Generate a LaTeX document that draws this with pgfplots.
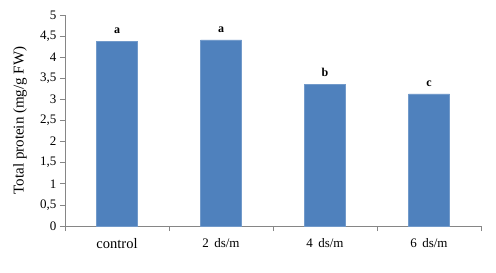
\documentclass[border=0pt]{standalone}
\usepackage{pgfplots}
\pgfplotsset{compat=1.18}
\usepackage{fontspec}
\setmainfont{Liberation Serif}
\definecolor{barblue}{HTML}{4F81BD}
\definecolor{axgray}{HTML}{868686}
\begin{document}
\begin{tikzpicture}
\useasboundingbox (-65bp,-47bp) rectangle (431bp,226bp);
\begin{axis}[
  at={(0,0)}, anchor=south west,
  scale only axis, width=416bp, height=211bp,
  xmin=0.5, xmax=4.5, ymin=0, ymax=5,
  axis x line*=bottom, axis y line*=left,
  axis line style={axgray, line width=0.8pt},
  xtick={1,2,3,4},
  xticklabels={{\fontsize{14.5bp}{16bp}\selectfont control},2\, ds/m,4\, ds/m,6\, ds/m},
  minor xtick={0.5,1.5,2.5,3.5,4.5},
  ytick={0,0.5,...,5},
  yticklabel style={/pgf/number format/.cd, use comma, fixed, fixed zerofill=false, precision=1},
  /pgf/number format/assume math mode=true,
  tick align=outside,
  major tick length=5bp, minor tick length=5bp,
  x tick style={draw=none}, minor x tick style={draw=axgray, line width=0.8pt},
  y tick style={draw=axgray, line width=0.8pt},
  ticklabel style={font=\rmfamily\fontsize{13bp}{15bp}\selectfont},
  xticklabel style={yshift=-4bp},
  ylabel={Total protein (mg/g FW)},
  every axis y label/.style={at={(axis description cs:0,0.5)}, xshift=-45bp, rotate=90, anchor=center, font=\rmfamily\fontsize{15bp}{17bp}\selectfont},
  clip=false,
]
\addplot[ybar, bar width=41bp, fill=barblue, draw=barblue!80!white, line width=0.6pt,
  nodes near coords, point meta=explicit symbolic,
  every node near coord/.append style={font=\rmfamily\bfseries\fontsize{12bp}{14bp}\selectfont, black, yshift=4bp}]
  coordinates {(1,4.38)[a] (2,4.41)[a] (3,3.36)[b] (4,3.13)[c]};
\end{axis}
\end{tikzpicture}
\end{document}
